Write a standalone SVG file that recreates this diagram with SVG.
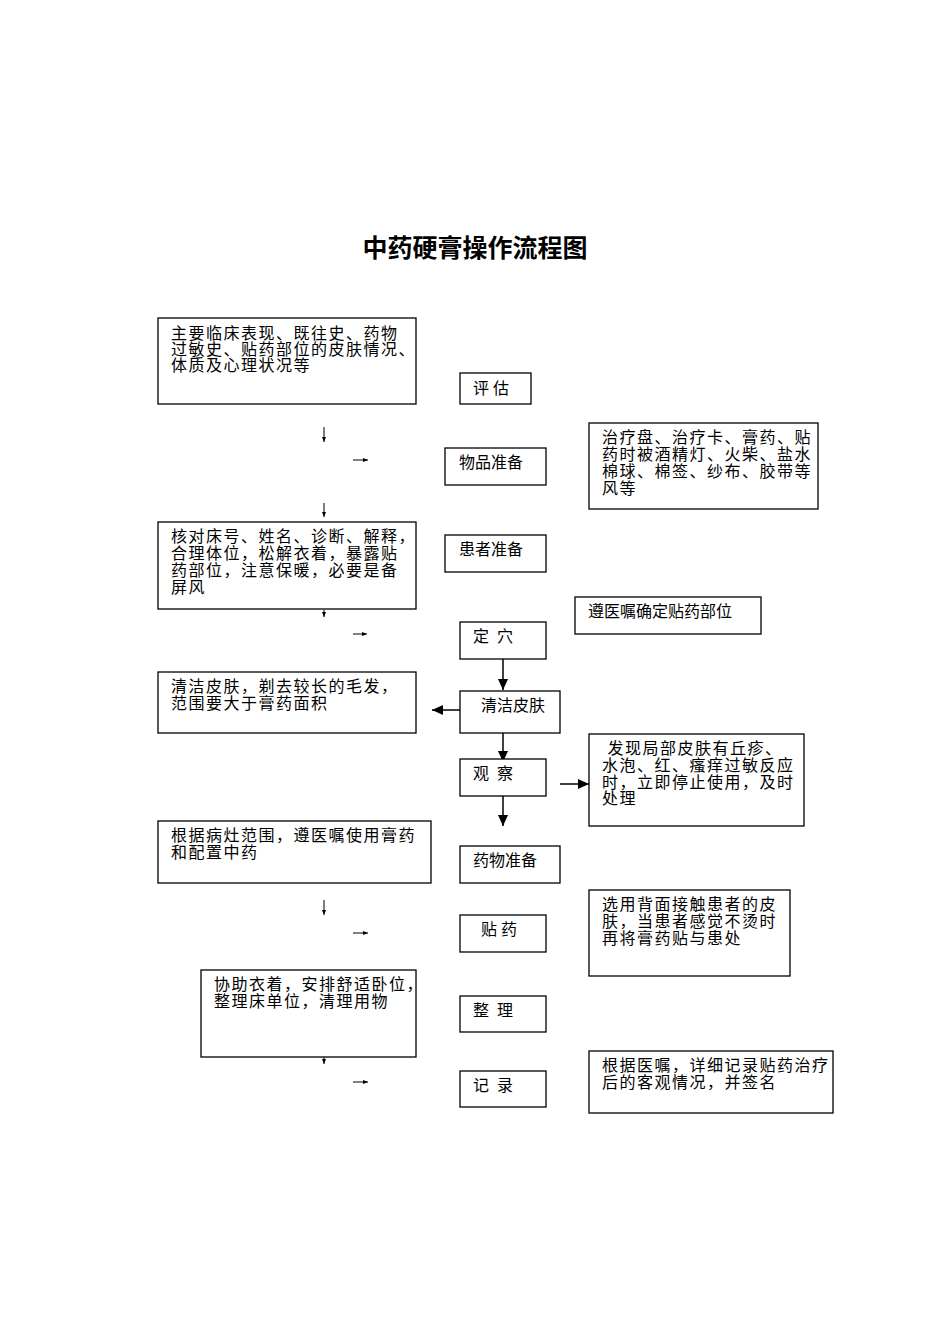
<svg xmlns="http://www.w3.org/2000/svg" width="950" height="1344" viewBox="0 0 950 1344">
<style>
rect{fill:#fff;stroke:#000;stroke-width:1.3}
text{font-family:"Liberation Serif","Noto Sans CJK SC",serif;font-size:16px;fill:#000;white-space:pre}
.w text{letter-spacing:1.5px}
.t{font-size:25px;font-weight:bold}
.c line{stroke:#000;stroke-width:1}
.c .b{stroke-width:1.5}
</style>
<defs>
<marker id="s" markerWidth="6" markerHeight="6" refX="5" refY="3" orient="auto" markerUnits="userSpaceOnUse"><path d="M0,1 L5,3 L0,5 z"/></marker>
<marker id="L" markerWidth="12" markerHeight="10" refX="11" refY="5" orient="auto" markerUnits="userSpaceOnUse"><path d="M0,0 L11,5 L0,10 z"/></marker>
</defs>
<rect x="0" y="0" width="950" height="1344" style="stroke:none"/>
<text class="t" x="475" y="257" text-anchor="middle">中药硬膏操作流程图</text>
<g class="c">
<line x1="324" y1="427" x2="324" y2="442" marker-end="url(#s)"/>
<line x1="353" y1="460" x2="368" y2="460" marker-end="url(#s)"/>
<line x1="324" y1="503" x2="324" y2="517" marker-end="url(#s)"/>
<line x1="324" y1="610" x2="324" y2="617" marker-end="url(#s)"/>
<line x1="353" y1="634" x2="367" y2="634" marker-end="url(#s)"/>
<line class="b" x1="503" y1="659" x2="503" y2="690" marker-end="url(#L)"/>
<line class="b" x1="460" y1="710" x2="432" y2="710" marker-end="url(#L)"/>
<line class="b" x1="503" y1="733" x2="503" y2="762" marker-end="url(#L)"/>
<line class="b" x1="560" y1="784" x2="589" y2="784" marker-end="url(#L)"/>
<line class="b" x1="503" y1="796" x2="503" y2="826" marker-end="url(#L)"/>
<line x1="324" y1="900" x2="324" y2="915" marker-end="url(#s)"/>
<line x1="353" y1="933" x2="368" y2="933" marker-end="url(#s)"/>
<line x1="324" y1="1057" x2="324" y2="1064" marker-end="url(#s)"/>
<line x1="353" y1="1082" x2="368" y2="1082" marker-end="url(#s)"/>
</g>
<g id="n1" class="w"><rect x="158" y="318" width="258" height="86"/><text x="171" y="339">主要临床表现、既往史、药物</text><text x="171" y="355">过敏史、贴药部位的皮肤情况、</text><text x="171" y="371">体质及心理状况等</text></g>
<g id="n2"><rect x="460" y="373" width="71" height="31"/><text x="473" y="394">评 估</text></g>
<g id="n3"><rect x="445" y="448" width="101" height="37"/><text x="459" y="468">物品准备</text></g>
<g id="n4" class="w"><rect x="589" y="423" width="229" height="86"/><text x="602" y="443">治疗盘、治疗卡、膏药、贴</text><text x="602" y="460">药时被酒精灯、火柴、盐水</text><text x="602" y="477">棉球、棉签、纱布、胶带等</text><text x="602" y="494">风等</text></g>
<g id="n5"><rect x="445" y="535" width="101" height="37"/><text x="459" y="555">患者准备</text></g>
<g id="n6" class="w"><rect x="158" y="522" width="258" height="87"/><text x="171" y="542">核对床号、姓名、诊断、解释，</text><text x="171" y="559">合理体位，松解衣着，暴露贴</text><text x="171" y="576">药部位，注意保暖，必要是备</text><text x="171" y="593">屏风</text></g>
<g id="n7"><rect x="575" y="597" width="186" height="37"/><text x="588" y="617">遵医嘱确定贴药部位</text></g>
<g id="n8"><rect x="460" y="622" width="86" height="37"/><text x="473" y="642">定  穴</text></g>
<g id="n9"><rect x="460" y="691" width="100" height="42"/><text x="481" y="711">清洁皮肤</text></g>
<g id="n10" class="w"><rect x="158" y="672" width="258" height="61"/><text x="171" y="692">清洁皮肤，剃去较长的毛发，</text><text x="171" y="709">范围要大于膏药面积</text></g>
<g id="n11"><rect x="460" y="759" width="86" height="37"/><text x="473" y="779">观  察</text></g>
<g id="n12" class="w"><rect x="589" y="734" width="215" height="92"/><text x="602" y="754"> 发现局部皮肤有丘疹、</text><text x="602" y="771">水泡、红、瘙痒过敏反应</text><text x="602" y="788">时，立即停止使用，及时</text><text x="602" y="804">处理</text></g>
<g id="n13" class="w"><rect x="158" y="821" width="273" height="62"/><text x="171" y="841">根据病灶范围，遵医嘱使用膏药</text><text x="171" y="858">和配置中药</text></g>
<g id="n14"><rect x="460" y="846" width="100" height="37"/><text x="473" y="866">药物准备</text></g>
<g id="n15"><rect x="460" y="915" width="86" height="37"/><text x="481" y="935">贴 药</text></g>
<g id="n16" class="w"><rect x="589" y="890" width="201" height="86"/><text x="602" y="910">选用背面接触患者的皮</text><text x="602" y="927">肤，当患者感觉不烫时</text><text x="602" y="944">再将膏药贴与患处</text></g>
<g id="n17" class="w"><rect x="201" y="970" width="215" height="87"/><text x="214" y="990">协助衣着，安排舒适卧位，</text><text x="214" y="1007">整理床单位，清理用物</text></g>
<g id="n18"><rect x="460" y="996" width="86" height="36"/><text x="473" y="1016">整  理</text></g>
<g id="n19"><rect x="460" y="1071" width="86" height="36"/><text x="473" y="1091">记  录</text></g>
<g id="n20" class="w"><rect x="589" y="1051" width="244" height="62"/><text x="602" y="1071">根据医嘱，详细记录贴药治疗</text><text x="602" y="1088">后的客观情况，并签名</text></g>
</svg>
